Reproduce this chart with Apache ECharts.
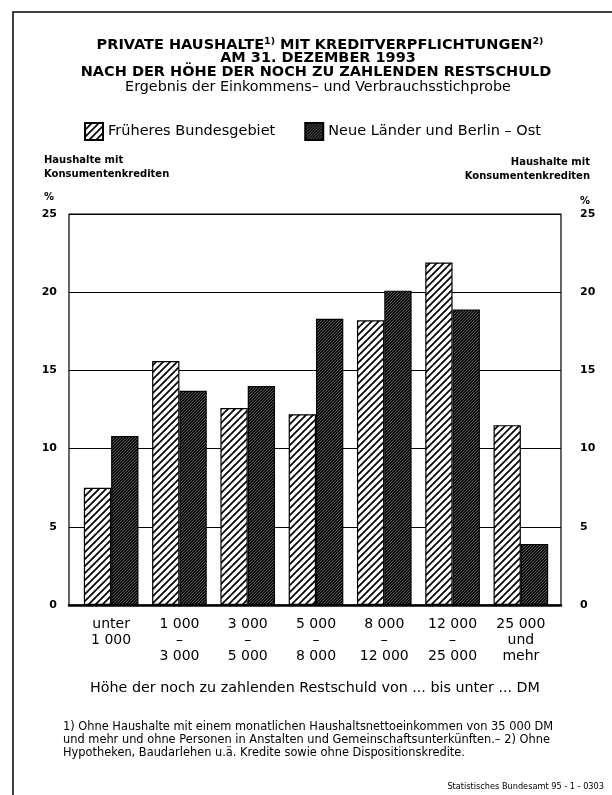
<!DOCTYPE html>
<html><head><meta charset="utf-8">
<script src="https://cdn.jsdelivr.net/npm/echarts@6/dist/echarts.min.js"></script>
<style>html,body{margin:0;padding:0;background:#fff}#c{width:612px;height:795px}</style>
</head><body><div id="c"></div>
<script>
const categories = ['unter\n1 000', '1 000\n–\n3 000', '3 000\n–\n5 000', '5 000\n–\n8 000', '8 000\n–\n12 000', '12 000\n–\n25 000', '25 000\nund\nmehr'];
const seriesNames = ['Früheres Bundesgebiet', 'Neue Länder und Berlin – Ost'];
const westValues = [7.5, 15.6, 12.6, 12.2, 18.2, 21.9, 11.5];
const eastValues = [10.8, 13.7, 14.0, 18.3, 20.1, 18.9, 3.9];
const yMin = 0, yMax = 25, yStep = 5;

const FF = 'DejaVu Sans';

function makePattern(size, bg, fg, lw) {
  const c = document.createElement('canvas');
  c.width = size; c.height = size;
  const g = c.getContext('2d');
  g.fillStyle = bg; g.fillRect(0, 0, size, size);
  g.strokeStyle = fg; g.lineWidth = lw;
  g.beginPath();
  g.moveTo(0, size); g.lineTo(size, 0);
  g.moveTo(-size, size); g.lineTo(size, -size);
  g.moveTo(0, 2 * size); g.lineTo(2 * size, 0);
  g.stroke();
  return c;
}
const lightPat = { image: makePattern(7, '#ffffff', '#000000', 1.7), repeat: 'repeat' };
const darkPat = { image: makePattern(3, '#0c0c0c', '#6e6e6e', 0.8), repeat: 'repeat' };

const chart = echarts.init(document.getElementById('c'), null, { renderer: 'canvas' });

const axisLabelStyle = { fontFamily: FF, fontWeight: 'bold', fontSize: 11, color: '#000' };

chart.setOption({
  backgroundColor: '#fff',
  animation: false,
  textStyle: { fontFamily: FF, color: '#000' },
  legend: {
    left: 79, top: 117, itemWidth: 18, itemHeight: 17, itemGap: 29,
    icon: 'rect',
    textStyle: { fontFamily: FF, fontSize: 14.5, color: '#000' },
    data: seriesNames
  },
  grid: [
    { left: 69, right: 51, top: 214, bottom: 190, show: true, borderColor: '#000', borderWidth: 1.2, backgroundColor: 'transparent' },
    { left: 77, right: 57, top: 214, bottom: 190 }
  ],
  xAxis: [
    { gridIndex: 0, type: 'value', min: 0, max: 1, axisLabel: { show: false }, axisTick: { show: false }, splitLine: { show: false },
      axisLine: { show: true, lineStyle: { color: '#000', width: 2.5 } } },
    { gridIndex: 1, type: 'category', data: categories, axisLine: { show: false }, axisTick: { show: false },
      axisLabel: { interval: 0, margin: 11, fontFamily: FF, fontSize: 14, lineHeight: 16, color: '#000', verticalAlign: 'top' } }
  ],
  yAxis: [
    { gridIndex: 0, type: 'value', min: yMin, max: yMax, interval: yStep, position: 'left',
      axisLine: { show: false }, axisTick: { show: false },
      axisLabel: Object.assign({ margin: 12 }, axisLabelStyle),
      splitLine: { show: true, lineStyle: { color: '#000', width: 1 } } },
    { gridIndex: 0, type: 'value', min: yMin, max: yMax, interval: yStep, position: 'right',
      axisLine: { show: false }, axisTick: { show: false },
      axisLabel: Object.assign({ margin: 19, align: 'left' }, axisLabelStyle),
      splitLine: { show: false } },
    { gridIndex: 1, type: 'value', min: yMin, max: yMax, interval: yStep, show: false, splitLine: { show: false } }
  ],
  series: [
    { name: seriesNames[0], type: 'bar', xAxisIndex: 1, yAxisIndex: 2, data: westValues,
      barGap: '0%', barCategoryGap: '20%', z: 5,
      itemStyle: { color: lightPat, borderColor: '#000', borderWidth: 1.2 } },
    { name: seriesNames[1], type: 'bar', xAxisIndex: 1, yAxisIndex: 2, data: eastValues,
      barGap: '0%', barCategoryGap: '20%', z: 5,
      itemStyle: { color: darkPat, borderColor: '#000', borderWidth: 1.2 } }
  ],
  graphic: [
    { type: 'rect', shape: { x: 13, y: 12, width: 800, height: 900 }, style: { fill: 'none', stroke: '#000', lineWidth: 1.5 }, silent: true },
    { type: 'text', x: 320, y: 45, style: {
        text: '{b|PRIVATE HAUSHALTE}{s|1)}{b| MIT KREDITVERPFLICHTUNGEN}{s|2)}',
        align: 'center', verticalAlign: 'middle',
        rich: {
          b: { fontFamily: FF, fontSize: 14.5, fontWeight: 'bold', fill: '#000', lineHeight: 16 },
          s: { fontFamily: FF, fontSize: 9.5, fontWeight: 'bold', fill: '#000', lineHeight: 16, verticalAlign: 'top' }
        } } },
    { type: 'text', x: 318, y: 58.5, style: { text: 'AM 31. DEZEMBER 1993', align: 'center', verticalAlign: 'middle', fontFamily: FF, fontSize: 14.5, fontWeight: 'bold', fill: '#000' } },
    { type: 'text', x: 316, y: 72.5, style: { text: 'NACH DER HÖHE DER NOCH ZU ZAHLENDEN RESTSCHULD', align: 'center', verticalAlign: 'middle', fontFamily: FF, fontSize: 14.5, fontWeight: 'bold', fill: '#000' } },
    { type: 'text', x: 318, y: 87, style: { text: 'Ergebnis der Einkommens– und Verbrauchsstichprobe', align: 'center', verticalAlign: 'middle', fontFamily: FF, fontSize: 14.3, fill: '#000' } },
    { type: 'text', x: 44, y: 167, style: { text: 'Haushalte mit\nKonsumentenkrediten', align: 'left', verticalAlign: 'middle', fontFamily: FF, fontSize: 10, fontWeight: 'bold', lineHeight: 14, fill: '#000' } },
    { type: 'text', x: 44, y: 197, style: { text: '%', align: 'left', verticalAlign: 'middle', fontFamily: FF, fontSize: 10, fontWeight: 'bold', fill: '#000' } },
    { type: 'text', x: 590, y: 169, style: { text: 'Haushalte mit\nKonsumentenkrediten', align: 'right', verticalAlign: 'middle', fontFamily: FF, fontSize: 10, fontWeight: 'bold', lineHeight: 14, fill: '#000' } },
    { type: 'text', x: 590, y: 201, style: { text: '%', align: 'right', verticalAlign: 'middle', fontFamily: FF, fontSize: 10, fontWeight: 'bold', fill: '#000' } },
    { type: 'text', x: 315, y: 688, style: { text: 'Höhe der noch zu zahlenden Restschuld von ... bis unter ... DM', align: 'center', verticalAlign: 'middle', fontFamily: FF, fontSize: 14.3, fill: '#000' } },
    { type: 'text', x: 63, y: 721, style: { text: '1) Ohne Haushalte mit einem monatlichen Haushaltsnettoeinkommen von 35 000 DM\nund mehr und ohne Personen in Anstalten und Gemeinschaftsunterkünften.– 2) Ohne\nHypotheken, Baudarlehen u.ä. Kredite sowie ohne Dispositionskredite.', align: 'left', verticalAlign: 'top', fontFamily: FF, fontSize: 11.4, lineHeight: 13, fill: '#000' } },
    { type: 'text', x: 604, y: 787, style: { text: 'Statistisches Bundesamt 95 - 1 - 0303', align: 'right', verticalAlign: 'middle', fontFamily: FF, fontSize: 8.2, fill: '#000' } }
  ]
});
</script></body></html>
